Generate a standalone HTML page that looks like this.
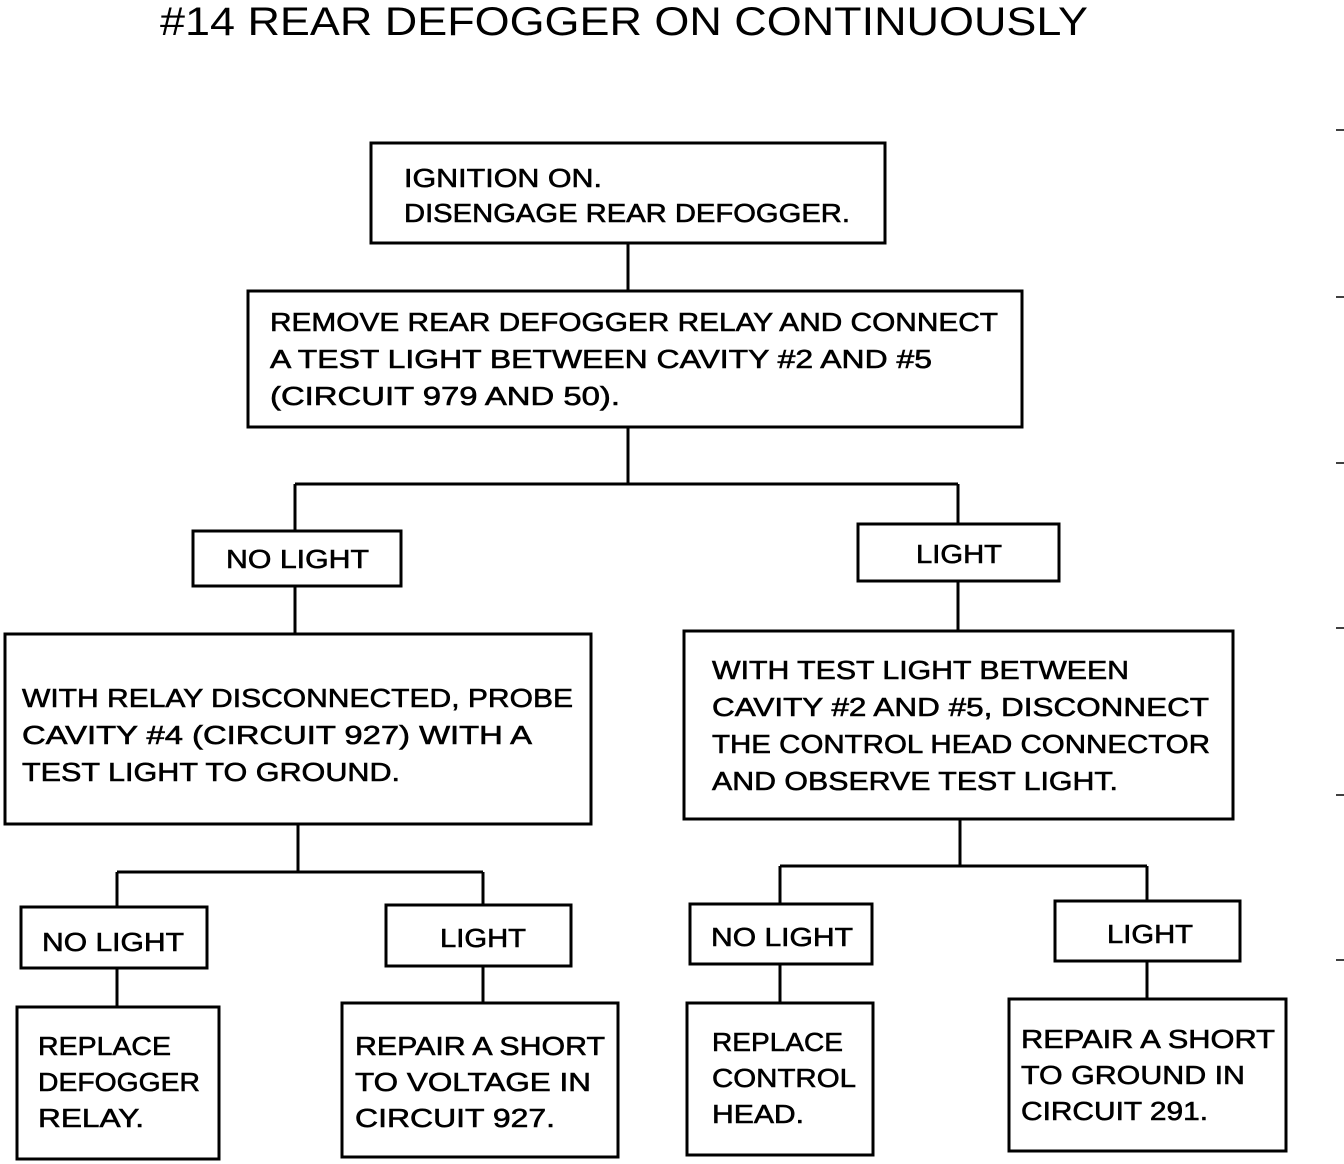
<!DOCTYPE html>
<html><head><meta charset="utf-8"><style>
html,body{margin:0;padding:0;background:#fff;}
svg{display:block;}
text{font-family:"Liberation Sans",Arial,sans-serif;fill:#000;}
</style></head><body>
<svg width="1344" height="1164" viewBox="0 0 1344 1164" xmlns="http://www.w3.org/2000/svg">
<text x="160" y="35" font-size="40" textLength="928" lengthAdjust="spacingAndGlyphs">#14 REAR DEFOGGER ON CONTINUOUSLY</text>
<g fill="none" stroke="#000" stroke-width="3">
<rect x="371" y="143" width="514" height="100"/>
<rect x="248" y="291" width="774" height="136"/>
<rect x="193" y="531" width="208" height="55"/>
<rect x="858" y="524" width="201" height="57"/>
<rect x="5" y="634" width="586" height="190"/>
<rect x="684" y="631" width="549" height="188"/>
<rect x="21" y="907" width="186" height="61"/>
<rect x="386" y="905" width="185" height="61"/>
<rect x="17" y="1007" width="202" height="152"/>
<rect x="342" y="1003" width="276" height="154"/>
<rect x="690" y="904" width="182" height="60"/>
<rect x="1055" y="901" width="185" height="60"/>
<rect x="687" y="1003" width="186" height="152"/>
<rect x="1009" y="999" width="277" height="152"/>
<path d="M628 244V291 M628 428V484 M295 484H958 M295 484V531 M958 484V524 M295 587V634 M958 582V631 M298 825V872 M117 872H483 M117 872V907 M483 872V905 M117 969V1007 M483 967V1003 M960 820V866 M780 866H1147 M780 866V904 M1147 866V901 M780 965V1003 M1147 962V999"/>
<path d="M1336 130H1344 M1336 297H1344 M1336 463H1344 M1336 628H1344 M1336 795H1344 M1336 960H1344" stroke-width="1.5"/>
</g>
<g font-size="26" stroke="#000" stroke-width="0.6">
<text x="404" y="187" textLength="198" lengthAdjust="spacingAndGlyphs">IGNITION ON.</text>
<text x="404" y="222" textLength="446" lengthAdjust="spacingAndGlyphs">DISENGAGE REAR DEFOGGER.</text>
<text x="270" y="331" textLength="728" lengthAdjust="spacingAndGlyphs">REMOVE REAR DEFOGGER RELAY AND CONNECT</text>
<text x="270" y="368" textLength="662" lengthAdjust="spacingAndGlyphs">A TEST LIGHT BETWEEN CAVITY #2 AND #5</text>
<text x="270" y="405" textLength="350" lengthAdjust="spacingAndGlyphs">(CIRCUIT 979 AND 50).</text>
<text x="226" y="568" textLength="143" lengthAdjust="spacingAndGlyphs">NO LIGHT</text>
<text x="916" y="563" textLength="86" lengthAdjust="spacingAndGlyphs">LIGHT</text>
<text x="22" y="707" textLength="551" lengthAdjust="spacingAndGlyphs">WITH RELAY DISCONNECTED, PROBE</text>
<text x="22" y="744" textLength="510" lengthAdjust="spacingAndGlyphs">CAVITY #4 (CIRCUIT 927) WITH A</text>
<text x="22" y="781" textLength="378" lengthAdjust="spacingAndGlyphs">TEST LIGHT TO GROUND.</text>
<text x="712" y="679" textLength="417" lengthAdjust="spacingAndGlyphs">WITH TEST LIGHT BETWEEN</text>
<text x="712" y="716" textLength="497" lengthAdjust="spacingAndGlyphs">CAVITY #2 AND #5, DISCONNECT</text>
<text x="712" y="753" textLength="498" lengthAdjust="spacingAndGlyphs">THE CONTROL HEAD CONNECTOR</text>
<text x="712" y="790" textLength="406" lengthAdjust="spacingAndGlyphs">AND OBSERVE TEST LIGHT.</text>
<text x="42" y="951" textLength="142" lengthAdjust="spacingAndGlyphs">NO LIGHT</text>
<text x="440" y="947" textLength="86" lengthAdjust="spacingAndGlyphs">LIGHT</text>
<text x="711" y="946" textLength="142" lengthAdjust="spacingAndGlyphs">NO LIGHT</text>
<text x="1107" y="943" textLength="86" lengthAdjust="spacingAndGlyphs">LIGHT</text>
<text x="38" y="1055" textLength="133" lengthAdjust="spacingAndGlyphs">REPLACE</text>
<text x="38" y="1091" textLength="162" lengthAdjust="spacingAndGlyphs">DEFOGGER</text>
<text x="38" y="1127" textLength="106" lengthAdjust="spacingAndGlyphs">RELAY.</text>
<text x="355" y="1055" textLength="250" lengthAdjust="spacingAndGlyphs">REPAIR A SHORT</text>
<text x="355" y="1091" textLength="236" lengthAdjust="spacingAndGlyphs">TO VOLTAGE IN</text>
<text x="355" y="1127" textLength="200" lengthAdjust="spacingAndGlyphs">CIRCUIT 927.</text>
<text x="712" y="1051" textLength="131" lengthAdjust="spacingAndGlyphs">REPLACE</text>
<text x="712" y="1087" textLength="144" lengthAdjust="spacingAndGlyphs">CONTROL</text>
<text x="712" y="1123" textLength="92" lengthAdjust="spacingAndGlyphs">HEAD.</text>
<text x="1021" y="1048" textLength="254" lengthAdjust="spacingAndGlyphs">REPAIR A SHORT</text>
<text x="1021" y="1084" textLength="224" lengthAdjust="spacingAndGlyphs">TO GROUND IN</text>
<text x="1021" y="1120" textLength="187" lengthAdjust="spacingAndGlyphs">CIRCUIT 291.</text>
</g>
</svg>
</body></html>
